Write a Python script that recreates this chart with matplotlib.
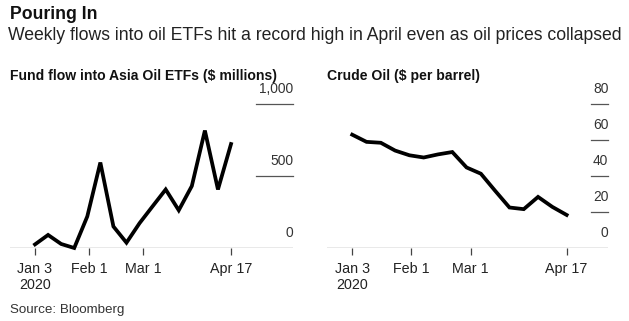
import numpy as np
import matplotlib
matplotlib.use("Agg")
import matplotlib.pyplot as plt
import matplotlib.transforms as mtransforms

plt.rcParams['font.family'] = ['Liberation Sans', 'DejaVu Sans']

# ---- data ----
dates = np.array(['2020-01-03', '2020-01-10', '2020-01-17', '2020-01-24', '2020-01-31',
                  '2020-02-07', '2020-02-14', '2020-02-21', '2020-02-28', '2020-03-06',
                  '2020-03-13', '2020-03-20', '2020-03-27', '2020-04-03', '2020-04-10',
                  '2020-04-17'], dtype='datetime64[D]')
etf_flows = [23, 89, 26, -2, 218, 594, 148, 35, 171, 289, 406, 261, 430, 817, 406, 723]
crude_oil = [63.05, 59.04, 58.54, 54.19, 51.56, 50.32, 52.05, 53.38, 44.76, 41.28,
             31.73, 22.43, 21.51, 28.34, 22.76, 18.27]

tick_dates = np.array(['2020-01-03', '2020-02-01', '2020-03-01', '2020-04-17'], dtype='datetime64[D]')
tick_labels = ['Jan 3\n2020', 'Feb 1', 'Mar 1', 'Apr 17']

left_yticks = [0, 500, 1000]
left_ylabels = ['0', '500', '1,000']
right_yticks = [0, 20, 40, 60, 80]
right_ylabels = ['0', '20', '40', '60', '80']

base = np.datetime64('2020-01-03')
x = (dates - base).astype(int)
tx = (tick_dates - base).astype(int)

W, H = 629, 321
fig = plt.figure(figsize=(W / 100, H / 100), dpi=100)


def px_axes(x0, x1, ytop, ybot):
    return fig.add_axes([x0 / W, 1 - ybot / H, (x1 - x0) / W, (ybot - ytop) / H])


def style(ax, xlim, ylim, yticks, ylabels, grid_start, title, title_x):
    ax.set_xlim(*xlim)
    ax.set_ylim(*ylim)
    for s in ax.spines.values():
        s.set_visible(False)
    ax.set_yticks([])
    ax.set_xticks(tx)
    ax.set_xticklabels(tick_labels, fontsize=10.3, color='#222222', linespacing=1.2)
    ax.tick_params(axis='x', length=5, width=0.9, color='#444444', pad=5)
    ax.axhline(0, color='#555555', lw=0.9, zorder=1)
    trans = mtransforms.blended_transform_factory(ax.transAxes, ax.transData)
    off = mtransforms.offset_copy(trans, fig=fig, x=0, y=8, units='dots')
    for v, lab in zip(yticks, ylabels):
        if v != 0:
            ax.plot([grid_start, 1.0], [v, v], transform=trans, color='#555555', lw=0.9,
                    clip_on=False, zorder=1)
        ax.text(1.0, v, lab, transform=off, ha='right', va='bottom', fontsize=9.9,
                color='#333333')
    fig.text(title_x / W, 1 - 80 / H, title, fontsize=10.1, fontweight='bold',
             ha='left', va='baseline', color='#111111')


# left panel: flows
ax1 = px_axes(10, 293, 104.3, 247.7)
ax1.plot(x, etf_flows, color='black', lw=2.7, solid_joinstyle='miter', clip_on=False, zorder=3)
style(ax1, (-13.4, 138.2), (0, 1000), left_yticks, left_ylabels, (256 - 10) / 283,
      'Fund flow into Asia Oil ETFs ($ millions)', 10)

# right panel: crude
ax2 = px_axes(326.7, 608.3, 104.3, 247.7)
ax2.plot(x, crude_oil, color='black', lw=2.7, solid_joinstyle='miter', clip_on=False, zorder=3)
style(ax2, (-12.5, 125.4), (0, 80), right_yticks, right_ylabels, (591 - 326.7) / 281.6,
      'Crude Oil ($ per barrel)', 326.7)

fig.text(10 / W, 1 - 19 / H, 'Pouring In', fontsize=12.7, fontweight='bold',
         ha='left', va='baseline', color='#111111')
fig.text(8 / W, 1 - 40 / H,
         'Weekly flows into oil ETFs hit a record high in April even as oil prices collapsed',
         fontsize=12.7, ha='left', va='baseline', color='#222222')
fig.text(10 / W, 1 - 313 / H, 'Source: Bloomberg', fontsize=9.6, ha='left', va='baseline',
         color='#333333')

fig.savefig('out.png', dpi=100)
